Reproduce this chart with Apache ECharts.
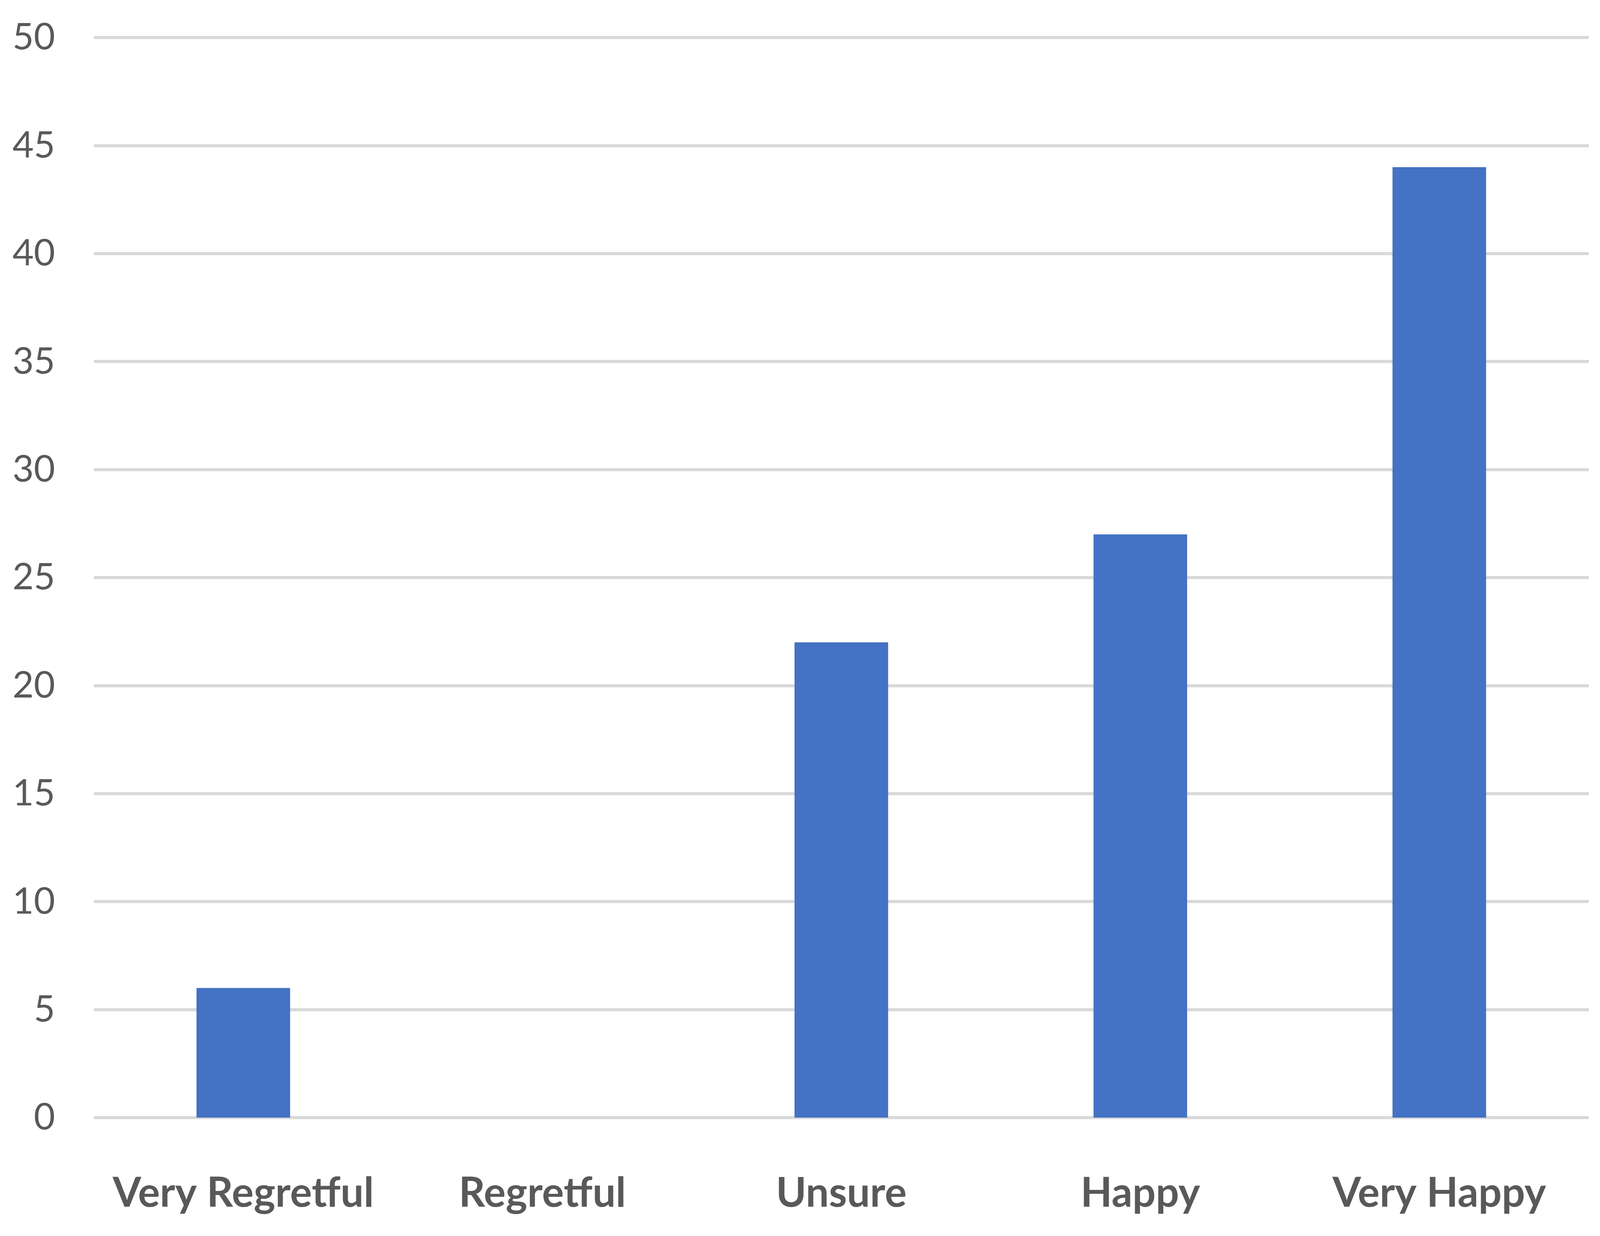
<!DOCTYPE html>
<html>
<head>
<meta charset="utf-8">
<script src="https://cdn.jsdelivr.net/npm/echarts@6/dist/echarts.min.js"></script>
<style>
  html, body { margin: 0; padding: 0; background: #fff; overflow: hidden; }
  #main { width: 100vw; height: 100vh; }
</style>
</head>
<body>
<div id="main"></div>
<script>
// categories and counts
var categories = ['Very Regretful', 'Regretful', 'Unsure', 'Happy', 'Very Happy']
var counts = [6, 0, 22, 27, 44]

// the layout was measured on a 5577x3163 picture; scale it to the real viewport
var sx = window.innerWidth / 5577
var sy = window.innerHeight / 3163
var s = Math.min(sx, sy)

var myChart = echarts.init(document.getElementById('main'))
var option = {
  backgroundColor: '#ffffff',
  animation: false,
  grid: {
    left: 327 * sx,
    right: 39 * sx,
    top: 96 * sy,
    bottom: 303 * sy
  },
  xAxis: {
    type: 'category',
    data: categories,
    axisLine: { show: false },
    axisTick: { show: false },
    axisLabel: {
      interval: 0,
      color: '#595959',
      fontFamily: 'Lato',
      fontWeight: 'bold',
      fontSize: 143 * s,
      margin: 142 * sy
    }
  },
  yAxis: {
    type: 'value',
    min: 0,
    max: 50,
    interval: 5,
    axisLine: { show: false },
    axisTick: { show: false },
    axisLabel: {
      color: '#595959',
      fontFamily: 'Lato',
      fontSize: 128 * s,
      margin: 135 * sx
    },
    splitLine: {
      lineStyle: { color: '#d9d9d9', width: 11 * s }
    }
  },
  series: [
    {
      type: 'bar',
      data: counts,
      barWidth: '31.3%',
      itemStyle: { color: '#4472c4' }
    }
  ]
}
myChart.setOption(option)
</script>
</body>
</html>
